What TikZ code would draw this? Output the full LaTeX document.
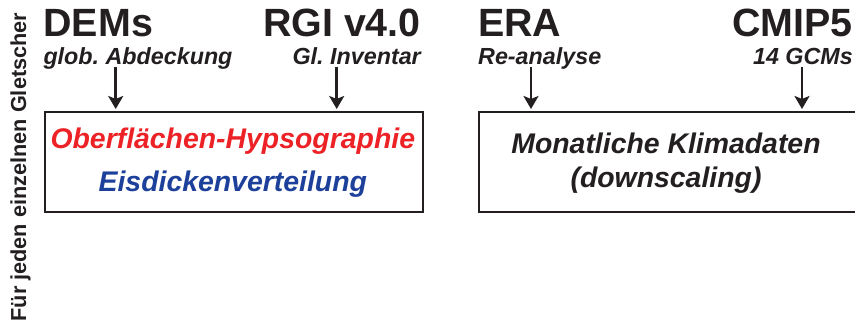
\documentclass[tikz,border=0pt]{standalone}
\usepackage{fontspec}
\setmainfont{Liberation Sans}
\usetikzlibrary{arrows.meta, positioning}
\definecolor{hypsored}{HTML}{EC2227}
\definecolor{eisblue}{HTML}{1D409A}
\definecolor{inkgray}{HTML}{231F20}
\frenchspacing

\begin{document}
\begin{tikzpicture}[x=1pt, y=1pt,
    head/.style={font=\fontsize{39.4}{44}\selectfont\bfseries, text=inkgray, inner sep=0pt},
    sub/.style={font=\fontsize{23.3}{26}\selectfont\bfseries\itshape, text=inkgray, inner sep=0pt},
    boxtxt/.style={font=\fontsize{28.4}{34}\selectfont\bfseries\itshape, inner sep=0pt},
    databox/.style={draw=inkgray, line width=2pt, rectangle, inner sep=0pt, minimum height=100pt},
    feed/.style={-{Stealth[length=13pt, width=15pt, inset=3pt]}, line width=2.6pt, draw=inkgray, shorten >=2pt}]
  \useasboundingbox (0,0) rectangle (855,322);
  % side label
  \node[font=\fontsize{21.7}{24}\selectfont\bfseries, text=inkgray, rotate=90, anchor=base west, inner sep=0pt] (side) at (26,0.3) {Für jeden einzelnen Gletscher};
  % glacier data
  \node[head, anchor=base west] (dems) at (43.3,285) {DEMs};
  \node[sub, anchor=base west] (demssub) at (43.3,257) {glob. Abdeckung};
  \node[head, anchor=base east] (rgi) at (421,285) {RGI v4.0};
  \node[sub, anchor=base east] (rgisub) at (421,257) {Gl. Inventar};
  \node[databox, minimum width=378.3pt, anchor=north west] (glbox) at (43.7,211) {};
  \node[boxtxt, text=hypsored, anchor=base] (hypso) at (232.8,174) {Oberflächen-Hypsographie};
  \node[boxtxt, text=eisblue, anchor=base] (eis) at (232.8,130.3) {Eisdickenverteilung};
  \coordinate (demsin) at (115.7,255);
  \coordinate (rgiin) at (336.7,255);
  \draw[feed] (demsin) -- (demsin |- glbox.north);
  \draw[feed] (rgiin) -- (rgiin |- glbox.north);
  % climate data
  \node[head, anchor=base west] (era) at (478,285) {ERA};
  \node[sub, anchor=base west] (erasub) at (478,257) {Re-analyse};
  \node[head, anchor=base east] (cmip) at (853,285) {CMIP5};
  \node[sub, anchor=base east] (cmipsub) at (853,257) {14 GCMs};
  \node[databox, minimum width=377pt, anchor=north west] (klbox) at (477.7,211) {};
  \node[boxtxt, text=inkgray, anchor=base] (monat) at (666,168.7) {Monatliche Klimadaten};
  \node[boxtxt, text=inkgray, anchor=base] (downsc) at (666,134.5) {(downscaling)};
  \coordinate (erain) at (531,255);
  \coordinate (cmipin) at (802,255);
  \draw[feed] (erain) -- (erain |- klbox.north);
  \draw[feed] (cmipin) -- (cmipin |- klbox.north);
\end{tikzpicture}
\end{document}
